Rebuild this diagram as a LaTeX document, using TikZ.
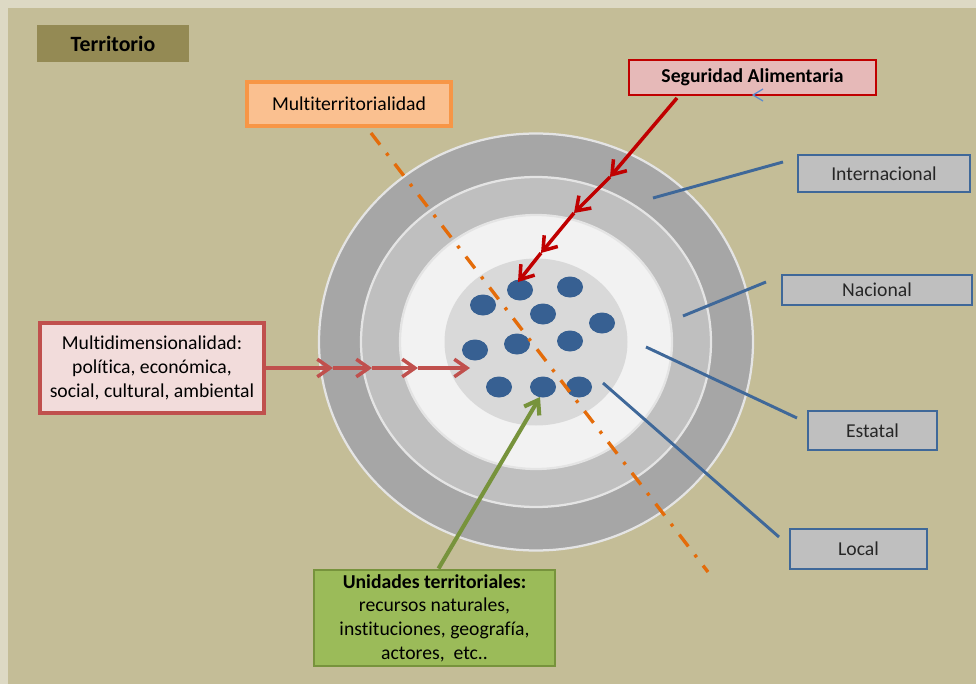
\documentclass[tikz,border=0pt]{standalone}
\usepackage{fontspec}
\setmainfont{Carlito}[Ligatures=NoCommon]
\usetikzlibrary{arrows.meta,positioning}
\definecolor{bgtan}{HTML}{C4BD97}
\definecolor{bgedge}{HTML}{DDD9C4}
\definecolor{olive}{HTML}{948A54}
\definecolor{ringA}{HTML}{A6A6A6}
\definecolor{ringB}{HTML}{BFBFBF}
\definecolor{ringC}{HTML}{F2F2F2}
\definecolor{ringD}{HTML}{D9D9D9}
\definecolor{ringedge}{HTML}{E4E4E4}
\definecolor{dotblue}{HTML}{376092}
\definecolor{lineblue}{HTML}{3F6899}
\definecolor{boxgray}{HTML}{BFBFBF}
\definecolor{darkred}{HTML}{C00000}
\definecolor{pinkfill}{HTML}{E6B9B8}
\definecolor{softred}{HTML}{C0504D}
\definecolor{palepink}{HTML}{F2DCDB}
\definecolor{orangeline}{HTML}{E46C0A}
\definecolor{orangeedge}{HTML}{F79646}
\definecolor{peach}{HTML}{FAC090}
\definecolor{leaf}{HTML}{9BBB59}
\definecolor{leafedge}{HTML}{77933C}
\definecolor{chevblue}{HTML}{5B8BD0}

\begin{document}
\begin{tikzpicture}[x=0.025cm, y=-0.025cm,
    txt/.style={font=\fontsize{14pt}{16.8pt}\selectfont, align=center, inner sep=0pt},
    levelbox/.style={txt, draw=lineblue, fill=boxgray, line width=2pt, text=black!85},
    ring/.style={draw=ringedge, line width=1.6pt},
    levelline/.style={draw=lineblue, line width=2.1pt},
    segarrow/.style={line width=2.5pt, -{Straight Barb[length=9pt,width=12.5pt]}}]
    \useasboundingbox (0,0) rectangle (976,684);
    \fill[bgedge] (0,0) rectangle (976,684);
    \fill[bgtan] (8,8) rectangle (976,684);

    \coordinate (ctr) at (536,342);
    \filldraw[ring, fill=ringA] (ctr) ellipse [x radius=217, y radius=208.5];
    \filldraw[ring, fill=ringB] (ctr) ellipse [x radius=175, y radius=165];
    \filldraw[ring, fill=ringC] (ctr) ellipse [x radius=136, y radius=127];
    \fill[ringD] (ctr) ellipse [x radius=91.5, y radius=83.5];
    \foreach \px/\py in {520/290, 570/287, 483/305, 543/314, 602/323, 475/350,
                         517/344, 570/341, 499/387, 543/387, 579/387}
      \fill[dotblue] (\px,\py) ellipse [x radius=13, y radius=10.5];
    \coordinate (dotB) at (540,397);

    \node[txt, fill=olive, font=\fontsize{15.5pt}{18pt}\selectfont\bfseries,
          minimum width=3.8cm, minimum height=0.925cm] (terr) at (113,43.5) {Territorio};
    \node[txt, fill=peach, draw=orangeedge, line width=2.4pt,
          minimum width=5.1cm, minimum height=1.1cm] (multi) at (349,104) {Multiterritorialidad};
    \node[txt, fill=pinkfill, draw=darkred, line width=1.3pt, font=\fontsize{14pt}{16.8pt}\selectfont\bfseries,
          minimum width=6.175cm, minimum height=0.875cm] (segu) at (752.5,77.5) {Seguridad Alimentaria};
    \node[levelbox, minimum width=4.3cm, minimum height=0.925cm] (inter) at (884,173.5) {Internacional};
    \node[levelbox, minimum width=4.75cm, minimum height=0.75cm] (nac) at (877,290) {Nacional};
    \node[levelbox, minimum width=3.225cm, minimum height=0.975cm] (est) at (872.5,430.5) {Estatal};
    \node[levelbox, minimum width=3.425cm, minimum height=1cm] (loc) at (858.5,549) {Local};
    \node[txt, fill=palepink, draw=softred, line width=2.4pt,
          minimum width=5.6cm, minimum height=2.25cm] (mdim) at (152,368)
          {Multidimensionalidad:\\política, económica,\\social, cultural, ambiental};
    \node[txt, fill=leaf, draw=leafedge, line width=2pt,
          minimum width=6.025cm, minimum height=2.4cm] (unid) at (434.5,618)
          {\textbf{Unidades territoriales:}\\recursos naturales,\\instituciones, geografía,\\actores,~ etc..};

    \coordinate (mtA) at (371,133);
    \coordinate (mtB) at (708,572);
    \draw[orangeline, line width=2.4pt, dash pattern=on 10.5pt off 7.5pt on 2.2pt off 7.5pt] (mtA) -- (mtB);

    \coordinate (iA) at (783,162);  \coordinate (iB) at (653,198);
    \coordinate (nA) at (766,282);  \coordinate (nB) at (683,316);
    \coordinate (eA) at (797,418);  \coordinate (eB) at (646,347);
    \coordinate (lA) at (779,537);  \coordinate (lB) at (603,383);
    \draw[levelline] (iA) -- (iB);
    \draw[levelline] (nA) -- (nB);
    \draw[levelline] (eA) -- (eB);
    \draw[levelline] (lA) -- (lB);

    \coordinate (sStart) at (677,98);
    \coordinate (sa1) at (610,177);
    \coordinate (sa2) at (574,213);
    \coordinate (sa3) at (541,253);
    \coordinate (sa4) at (518,282);
    \draw[segarrow, darkred] (sStart) -- (sa1);
    \draw[segarrow, darkred] (sa1) -- (sa2);
    \draw[segarrow, darkred] (sa2) -- (sa3);
    \draw[segarrow, darkred] (sa3) -- (sa4);

    \coordinate (ma1) at (333,368);
    \coordinate (ma2) at (372,368);
    \coordinate (ma3) at (418,368);
    \coordinate (ma4) at (470,368);
    \draw[segarrow, softred] (mdim.east) -- (ma1);
    \draw[segarrow, softred] (ma1) -- (ma2);
    \draw[segarrow, softred] (ma2) -- (ma3);
    \draw[segarrow, softred] (ma3) -- (ma4);

    \draw[segarrow, leafedge, line width=2.9pt] ([xshift=0.1cm]unid.north) -- (dotB);

    \draw[chevblue, line width=0.9pt] (763,89) -- (753,95) -- (763,101);
  \end{tikzpicture}
\end{document}
